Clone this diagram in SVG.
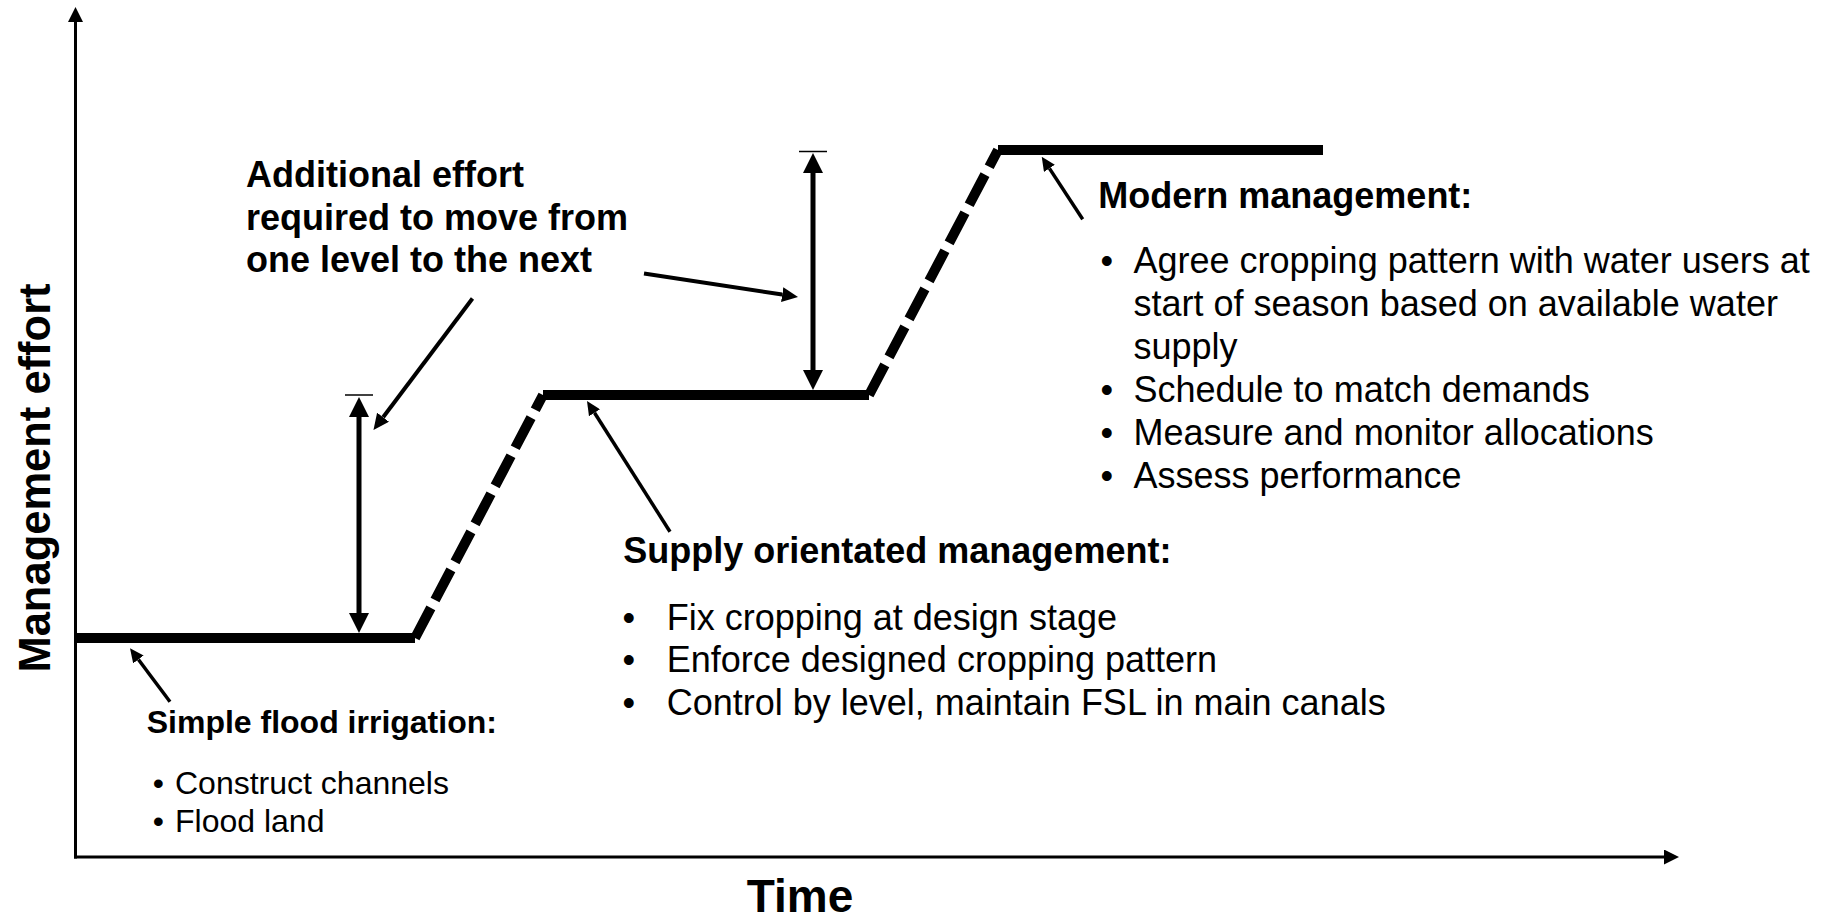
<svg xmlns="http://www.w3.org/2000/svg" width="1821" height="917" viewBox="0 0 1821 917">
<defs>
<style>
.t{font-family:"Liberation Sans",Arial,Helvetica,sans-serif;fill:#000}
.b{font-weight:bold}
.axis{stroke:#000;stroke-width:3;fill:none}
.level{stroke:#000;stroke-width:10;fill:none}
.slope{stroke:#000;stroke-width:10;fill:none;stroke-dasharray:34 9}
.dim{stroke:#000;stroke-width:5;fill:none}
.tick{stroke:#000;stroke-width:1.5;fill:none}
.ptr{stroke:#000;stroke-width:4;fill:none}
.ptrs{stroke:#000;stroke-width:3.5;fill:none}
</style>
<marker id="axHead" markerUnits="userSpaceOnUse" viewBox="0 0 15 15" markerWidth="15" markerHeight="15" refX="0" refY="7.5" orient="auto"><path d="M0,0 L15,7.5 L0,15 z" fill="#000"/></marker>
<marker id="dimHead" markerUnits="userSpaceOnUse" viewBox="0 0 20 20" markerWidth="20" markerHeight="20" refX="0" refY="10" orient="auto-start-reverse"><path d="M0,0 L20,10 L0,20 z" fill="#000"/></marker>
<marker id="ptrHead" markerUnits="userSpaceOnUse" viewBox="0 0 16 15" markerWidth="16" markerHeight="15" refX="0" refY="7.5" orient="auto"><path d="M0,0 L16,7.5 L0,15 z" fill="#000"/></marker>
<marker id="ptrHeadS" markerUnits="userSpaceOnUse" viewBox="0 0 14 13" markerWidth="14" markerHeight="13" refX="0" refY="6.5" orient="auto"><path d="M0,0 L14,6.5 L0,13 z" fill="#000"/></marker>
</defs>
<rect width="1821" height="917" fill="#fff"/>

<g id="axes">
<path class="axis" d="M75.5,858.5 V22" marker-end="url(#axHead)"/>
<path class="axis" d="M74,857 H1664" marker-end="url(#axHead)"/>
<text class="t b" font-size="43.5" text-anchor="middle" transform="translate(50,478) rotate(-90)">Management effort</text>
<text class="t b" font-size="46" x="746.7" y="912">Time</text>
</g>

<g id="level1">
<path class="level" d="M75,638 H415"/>
</g>
<g id="level2">
<path class="level" d="M543,395 H869"/>
</g>
<g id="level3">
<path class="level" d="M998,150 H1323"/>
</g>

<g id="connectors">
<path class="slope" d="M415,638 L543,395"/>
<path class="slope" d="M869,395 L998,150"/>
<path class="dim" d="M359,417 V613" marker-start="url(#dimHead)" marker-end="url(#dimHead)"/>
<path class="tick" d="M345,395 H373"/>
<path class="dim" d="M813,173 V370" marker-start="url(#dimHead)" marker-end="url(#dimHead)"/>
<path class="tick" d="M799,151.5 H827"/>
<path class="ptr" d="M472.5,298.5 L383.1,417.2" marker-end="url(#ptrHead)"/>
<path class="ptr" d="M644,273.5 L782.2,294.6" marker-end="url(#ptrHead)"/>
<path class="ptrs" d="M670,531.7 L594.5,412.8" marker-end="url(#ptrHeadS)"/>
<path class="ptrs" d="M1082.7,219.3 L1049.4,168.4" marker-end="url(#ptrHeadS)"/>
<path class="ptrs" d="M170,701.7 L138.4,659.5" marker-end="url(#ptrHeadS)"/>
</g>

<g id="additional-effort">
<text class="t b" font-size="36" x="246" y="187">Additional effort</text>
<text class="t b" font-size="36" x="246" y="229.5">required to move from</text>
<text class="t b" font-size="36" x="246" y="272">one level to the next</text>
</g>

<g id="modern-management">
<text class="t b" font-size="36" x="1098.3" y="207.5">Modern management:</text>
<g class="t" font-size="36">
<text x="1100.5" y="272.5">•</text>
<text x="1133.5" y="272.5">Agree cropping pattern with water users at</text>
<text x="1133.5" y="315.5">start of season based on available water</text>
<text x="1133.5" y="358.5">supply</text>
<text x="1100.5" y="401.5">•</text>
<text x="1133.5" y="401.5">Schedule to match demands</text>
<text x="1100.5" y="444.5">•</text>
<text x="1133.5" y="444.5">Measure and monitor allocations</text>
<text x="1100.5" y="487.5">•</text>
<text x="1133.5" y="487.5">Assess performance</text>
</g>
</g>

<g id="supply-management">
<text class="t b" font-size="36" x="623.3" y="562.5">Supply orientated management:</text>
<g class="t" font-size="36">
<text x="622.5" y="629.5">•</text>
<text x="666.7" y="629.5">Fix cropping at design stage</text>
<text x="622.5" y="672">•</text>
<text x="666.7" y="672">Enforce designed cropping pattern</text>
<text x="622.5" y="714.5">•</text>
<text x="666.7" y="714.5">Control by level, maintain FSL in main canals</text>
</g>
</g>

<g id="simple-flood">
<text class="t b" font-size="32" x="146.7" y="733.3">Simple flood irrigation:</text>
<g class="t" font-size="32">
<text x="152.8" y="794">•</text>
<text x="175" y="794">Construct channels</text>
<text x="152.8" y="831.7">•</text>
<text x="175" y="831.7">Flood land</text>
</g>
</g>
</svg>
